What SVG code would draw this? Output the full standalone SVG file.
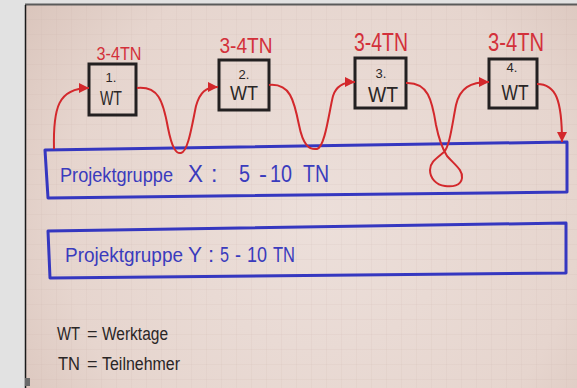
<svg xmlns="http://www.w3.org/2000/svg" width="577" height="388" viewBox="0 0 577 388">
<defs>
<radialGradient id="paper" cx="320" cy="220" r="430" gradientUnits="userSpaceOnUse">
<stop offset="0" stop-color="#ecdfda"/>
<stop offset="0.6" stop-color="#e6d5ce"/>
<stop offset="0.85" stop-color="#dac5bc"/>
<stop offset="1" stop-color="#9f806f"/>
</radialGradient>
<pattern id="grid" width="15" height="15" patternUnits="userSpaceOnUse" x="27" y="5">
<path d="M15,0 V15 M0,15 H15" fill="none" stroke="#c4aca3" stroke-width="0.7" opacity="0.35"/>
</pattern>
<marker id="arr" viewBox="0 0 10 10" refX="10" refY="5" markerWidth="10" markerHeight="10" markerUnits="userSpaceOnUse" orient="auto">
<path d="M0,0 L10,5 L0,10 Z" fill="#d3282c"/>
</marker>
</defs>
<style>
.box{fill:none;stroke:#232021;stroke-width:3}
.grp{fill:none;stroke:#3537c0;stroke-width:3;stroke-linejoin:round}
.con{fill:none;stroke:#d3282c;stroke-width:2}
text{font-family:"Liberation Sans Narrow","Liberation Sans",sans-serif}
.red{fill:#d3303a}
.blk{fill:#2a2626}
.blu{fill:#3a3bbd}
</style>
<rect width="577" height="388" fill="#e2e2e2"/>
<rect x="25" y="5" width="552" height="383" fill="url(#paper)"/>
<rect x="25" y="5" width="552" height="383" fill="url(#grid)"/>
<line x1="25" y1="4.5" x2="577" y2="4.5" stroke="#5a5a5a" stroke-width="2"/>
<line x1="25.5" y1="5" x2="25.5" y2="388" stroke="#1a1a1a" stroke-width="1.5"/>
<rect x="25" y="378" width="5" height="8" fill="#6a6a6a"/>

<g id="groupX">
<path class="grp" d="M45,150 L567,142 L567,192 L48,198 Z"/>
<g class="blu" font-size="23">
<text x="60" y="182" font-size="20" textLength="113" lengthAdjust="spacingAndGlyphs">Projektgruppe</text>
<text x="188" y="182" textLength="15" lengthAdjust="spacingAndGlyphs">X</text>
<text x="211" y="182">:</text>
<text x="239" y="182" textLength="11" lengthAdjust="spacingAndGlyphs">5</text>
<text x="259" y="182" textLength="8" lengthAdjust="spacingAndGlyphs">-</text>
<text x="270" y="182" textLength="22" lengthAdjust="spacingAndGlyphs">10</text>
<text x="303" y="182" textLength="26" lengthAdjust="spacingAndGlyphs">TN</text>
</g>
</g>

<g id="groupY">
<path class="grp" d="M48,231 L566,223 L566,273 L50,278 Z"/>
<g class="blu" font-size="22">
<text x="65" y="262" font-size="19.5" textLength="118" lengthAdjust="spacingAndGlyphs">Projektgruppe</text>
<text x="188" y="262" textLength="14" lengthAdjust="spacingAndGlyphs">Y</text>
<text x="208" y="262">:</text>
<text x="220" y="262" textLength="9" lengthAdjust="spacingAndGlyphs">5</text>
<text x="235" y="262" textLength="6" lengthAdjust="spacingAndGlyphs">-</text>
<text x="247" y="262" textLength="20" lengthAdjust="spacingAndGlyphs">10</text>
<text x="273" y="262" textLength="22" lengthAdjust="spacingAndGlyphs">TN</text>
</g>
</g>

<g id="box1">
<rect class="box" x="89" y="64" width="47" height="51"/>
<text class="red" font-size="18" x="119" y="60" text-anchor="middle" textLength="45" lengthAdjust="spacingAndGlyphs">3-4TN</text>
<text class="blk" font-size="13" x="111" y="82" text-anchor="middle">1.</text>
<text class="blk" font-size="21" x="111" y="105" text-anchor="middle" textLength="22" lengthAdjust="spacingAndGlyphs">WT</text>
</g>

<g id="box2">
<rect class="box" x="219" y="60" width="50" height="50"/>
<text class="red" font-size="22" x="246" y="53" text-anchor="middle" textLength="53" lengthAdjust="spacingAndGlyphs">3-4TN</text>
<text class="blk" font-size="13" x="244" y="79" text-anchor="middle">2.</text>
<text class="blk" font-size="21" x="244" y="100" text-anchor="middle" textLength="28" lengthAdjust="spacingAndGlyphs">WT</text>
</g>

<g id="box3">
<rect class="box" x="355" y="58" width="51" height="50"/>
<text class="red" font-size="26" x="381" y="51" text-anchor="middle" textLength="54" lengthAdjust="spacingAndGlyphs">3-4TN</text>
<text class="blk" font-size="13" x="381" y="78" text-anchor="middle">3.</text>
<text class="blk" font-size="22" x="383" y="102" text-anchor="middle" textLength="30" lengthAdjust="spacingAndGlyphs">WT</text>
</g>

<g id="box4">
<rect class="box" x="489" y="59" width="48" height="49"/>
<text class="red" font-size="26" x="516" y="51" text-anchor="middle" textLength="56" lengthAdjust="spacingAndGlyphs">3-4TN</text>
<text class="blk" font-size="13" x="512" y="72" text-anchor="middle">4.</text>
<text class="blk" font-size="22" x="515" y="100" text-anchor="middle" textLength="27" lengthAdjust="spacingAndGlyphs">WT</text>
</g>

<g id="legend" class="blk" font-size="18">
<text x="57" y="340" textLength="23" lengthAdjust="spacingAndGlyphs">WT</text>
<text x="87" y="340">=</text>
<text x="102" y="340" textLength="66" lengthAdjust="spacingAndGlyphs">Werktage</text>
<text x="58" y="370" textLength="22" lengthAdjust="spacingAndGlyphs">TN</text>
<text x="87" y="370">=</text>
<text x="102" y="370" textLength="78" lengthAdjust="spacingAndGlyphs">Teilnehmer</text>
</g>

<g id="connectors">
<path class="con" marker-end="url(#arr)" d="M54,149 C53,108 58,88 89,88"/>
<path class="con" marker-end="url(#arr)" d="M137,88 C158,86 163,100 168,128 C172,148 176,154 181,153 C188,152 192,125 196,106 C200,92 206,87 218,87"/>
<path class="con" marker-end="url(#arr)" d="M269,85 C290,83 294,100 299,125 C303,145 309,150 317,149 C325,147 329,112 333,96 C336,86 344,82 355,82"/>
<path class="con" marker-end="url(#arr)" d="M406,83 C428,82 432,100 436,125 C439,140 442,148 447,156 C455,165 463,170 462,178 C461,186 452,187 445,186 C436,185 430,178 430,170 C430,162 437,158 444,152 C450,145 452,125 456,105 C460,88 470,82 489,82"/>
<path class="con" marker-end="url(#arr)" d="M537,84 C556,84 562,100 562,142"/>
</g>
</svg>
